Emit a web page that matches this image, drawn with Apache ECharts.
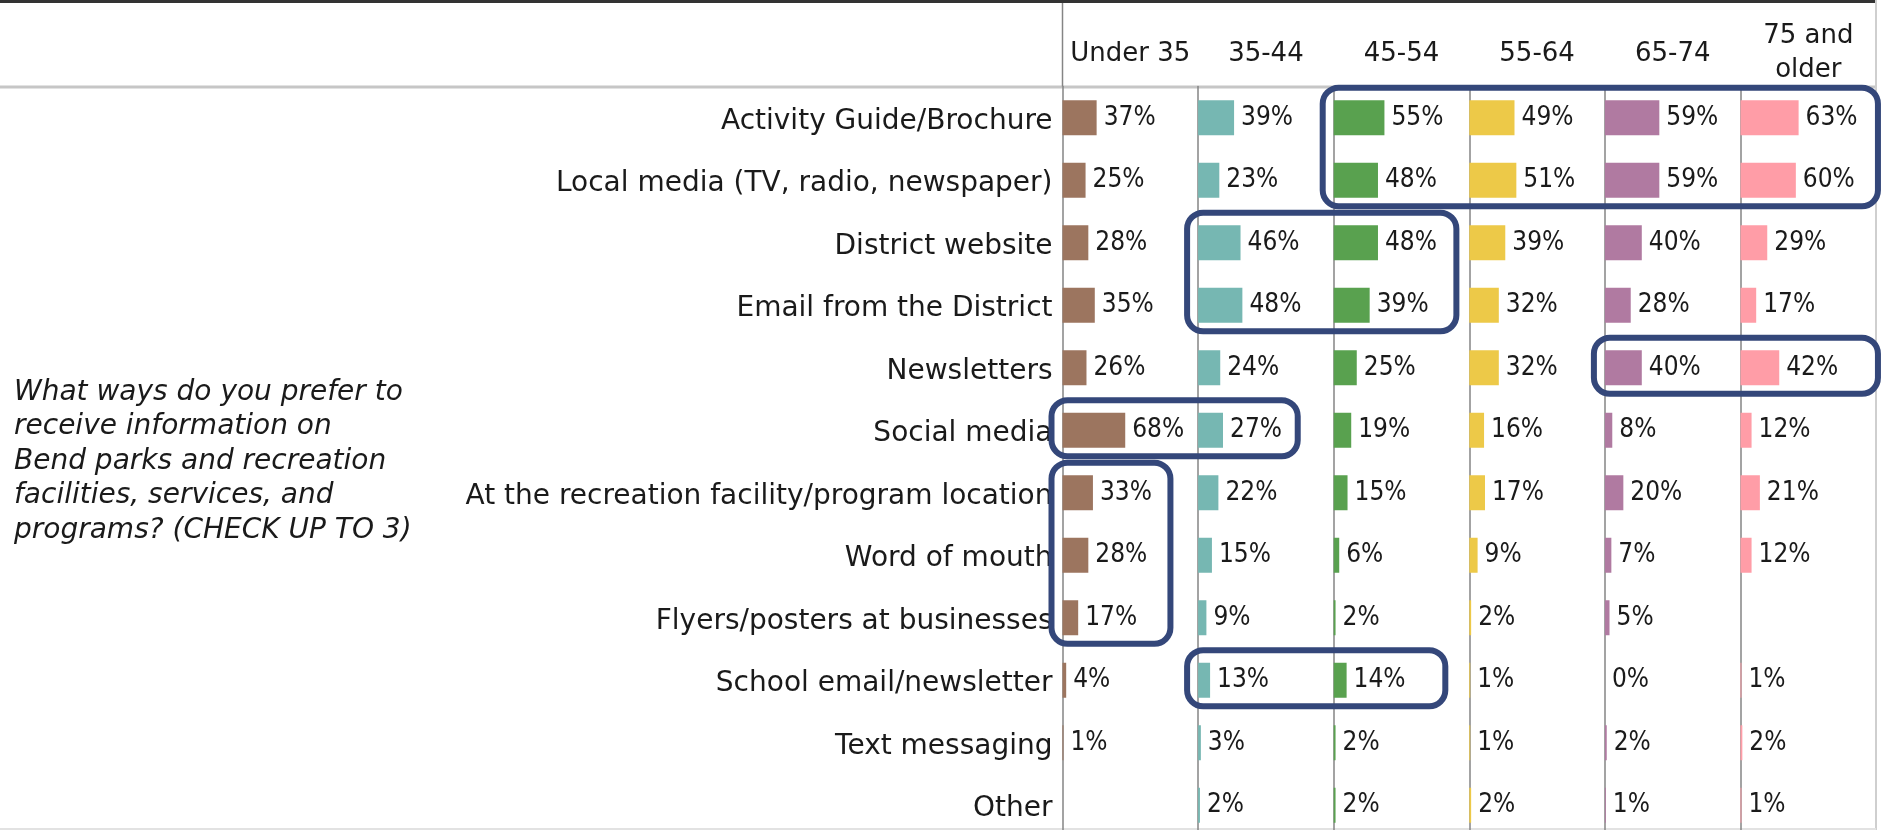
<!DOCTYPE html>
<html>
<head>
<meta charset="utf-8">
<title>Information preferences by age</title>
<script src="https://cdn.jsdelivr.net/npm/echarts@6/dist/echarts.min.js"></script>
<style>
    html, body { margin: 0; padding: 0; background: #fff; }
    #chart { width: 1881px; height: 830px; }
</style>
</head>
<body>
<div id="chart"></div>
<script>
// rows, top to bottom
var ways = ['Activity Guide/Brochure', 'Local media (TV, radio, newspaper)', 'District website',
    'Email from the District', 'Newsletters', 'Social media',
    'At the recreation facility/program location', 'Word of mouth', 'Flyers/posters at businesses',
    'School email/newsletter', 'Text messaging', 'Other'];

// columns
var ageGroups = ['Under 35', '35-44', '45-54', '55-64', '65-74', '75 and\nolder'];

// % per age group, same order as ways (null = blank cell)
var under35   = [37, 25, 28, 35, 26, 68, 33, 28, 17, 4, 1, null];
var age35to44 = [39, 23, 46, 48, 24, 27, 22, 15, 9, 13, 3, 2];
var age45to54 = [55, 48, 48, 39, 25, 19, 15, 6, 2, 14, 2, 2];
var age55to64 = [49, 51, 39, 32, 32, 16, 17, 9, 2, 1, 1, 2];
var age65to74 = [59, 59, 40, 28, 40, 8, 20, 7, 5, 0, 2, 1];
var age75plus = [63, 60, 29, 17, 42, 12, 21, 12, null, 1, 2, 1];

var question = 'What ways do you prefer to\nreceive information on\nBend parks and recreation\nfacilities, services, and\nprograms? (CHECK UP TO 3)';

// outlined groups: first col, last col, first row, last row, right edge (in % on last col)
var highlights = [
    [2, 5, 0, 1, 149],
    [1, 2, 2, 3, 133],
    [4, 5, 4, 4, 149],
    [0, 1, 5, 5, 108],
    [0, 0, 6, 8, 117],
    [1, 2, 9, 9, 121]
];

var columns = [under35, age35to44, age45to54, age55to64, age65to74, age75plus];
var colors = ['#9c755f', '#76b7b2', '#59a14f', '#edc948', '#b07aa1', '#ff9da7'];

// layout
var firstCol = 1062.5;
var colW = 135.6;
var gridTop = 86.5;
var rowH = 62.5;
var maxPct = 147;
var sepColor = '#858585';
var textColor = '#1a1a1a';
var sansFont = '"DejaVu Sans", sans-serif';
var narrowFont = '"Liberation Sans Narrow", "DejaVu Sans Condensed", "Liberation Sans", sans-serif';

var chart = echarts.init(document.getElementById('chart'));

var grids = [], xAxes = [], yAxes = [], series = [];
for (var i = 0; i < columns.length; i++) {
    grids.push({
        left: firstCol + colW * i,
        top: gridTop,
        width: colW,
        height: rowH * ways.length,
        containLabel: false,
        outerBoundsMode: 'none'
    });
    xAxes.push({
        type: 'value',
        gridIndex: i,
        min: 0,
        max: maxPct,
        show: false
    });
    yAxes.push({
        type: 'category',
        gridIndex: i,
        data: ways,
        inverse: true,
        axisTick: { show: false },
        axisLine: { show: true, lineStyle: { color: sepColor, width: 1.5 } },
        splitLine: { show: false },
        axisLabel: {
            show: i === 0,
            margin: 10,
            formatter: '{w|{value}}',
            rich: {
                // nudge the text a little lower, like the source
                w: {
                    color: textColor,
                    fontFamily: sansFont,
                    fontSize: 28,
                    padding: [7, 0, 0, 0]
                }
            }
        }
    });
    series.push({
        name: ageGroups[i],
        type: 'bar',
        xAxisIndex: i,
        yAxisIndex: i,
        data: columns[i],
        barWidth: 35,
        itemStyle: { color: colors[i] },
        label: {
            show: true,
            position: 'right',
            distance: 7,
            formatter: '{c}%',
            color: textColor,
            fontFamily: narrowFont,
            fontSize: 26
        }
    });
}

chart.setOption({
    animation: false,
    backgroundColor: '#fff',
    grid: grids,
    xAxis: xAxes,
    yAxis: yAxes,
    series: series
});

// frame, headers, question text and the outlined groups
var right = 1876;
var graphics = [
    { type: 'rect', shape: { x: 0, y: 0, width: right, height: 3 }, style: { fill: '#333' } },
    { type: 'rect', shape: { x: 0, y: 85.5, width: right, height: 3 }, style: { fill: '#c6c6c6' } },
    { type: 'line', shape: { x1: right, y1: 0, x2: right, y2: 830 }, style: { stroke: '#cfcfcf', lineWidth: 2 } },
    { type: 'line', shape: { x1: 0, y1: 829, x2: right, y2: 829 }, style: { stroke: '#e2e2e2', lineWidth: 2 } },
    { type: 'line', shape: { x1: firstCol, y1: 3, x2: firstCol, y2: gridTop }, style: { stroke: sepColor, lineWidth: 1.5 } },
    {
        type: 'text', left: 14, top: 375,
        style: {
            text: question, fill: textColor, font: 'italic 28px ' + sansFont, lineHeight: 34.5
        }
    }
];

ageGroups.forEach(function (g, i) {
    graphics.push({
        type: 'text',
        x: firstCol + colW * i + colW / 2,
        y: g.indexOf('\n') >= 0 ? 53 : 54,
        style: {
            text: g, fill: textColor, font: '26px ' + sansFont,
            align: 'center', verticalAlign: 'middle', lineHeight: 34
        }
    });
});

highlights.forEach(function (h) {
    var topLeft = chart.convertToPixel({ gridIndex: h[0] }, [0, h[2]]);
    var bottomRight = chart.convertToPixel({ gridIndex: h[1] }, [h[4], h[3]]);
    var x0 = topLeft[0] - 11, y0 = topLeft[1] - 30;
    var x1 = bottomRight[0], y1 = bottomRight[1] + 26;
    graphics.push({
        type: 'rect',
        z: 100,
        shape: { x: x0, y: y0, width: x1 - x0, height: y1 - y0, r: 16 },
        style: { fill: 'none', stroke: '#34477a', lineWidth: 6 }
    });
});

chart.setOption({ graphic: graphics });
</script>
</body>
</html>
